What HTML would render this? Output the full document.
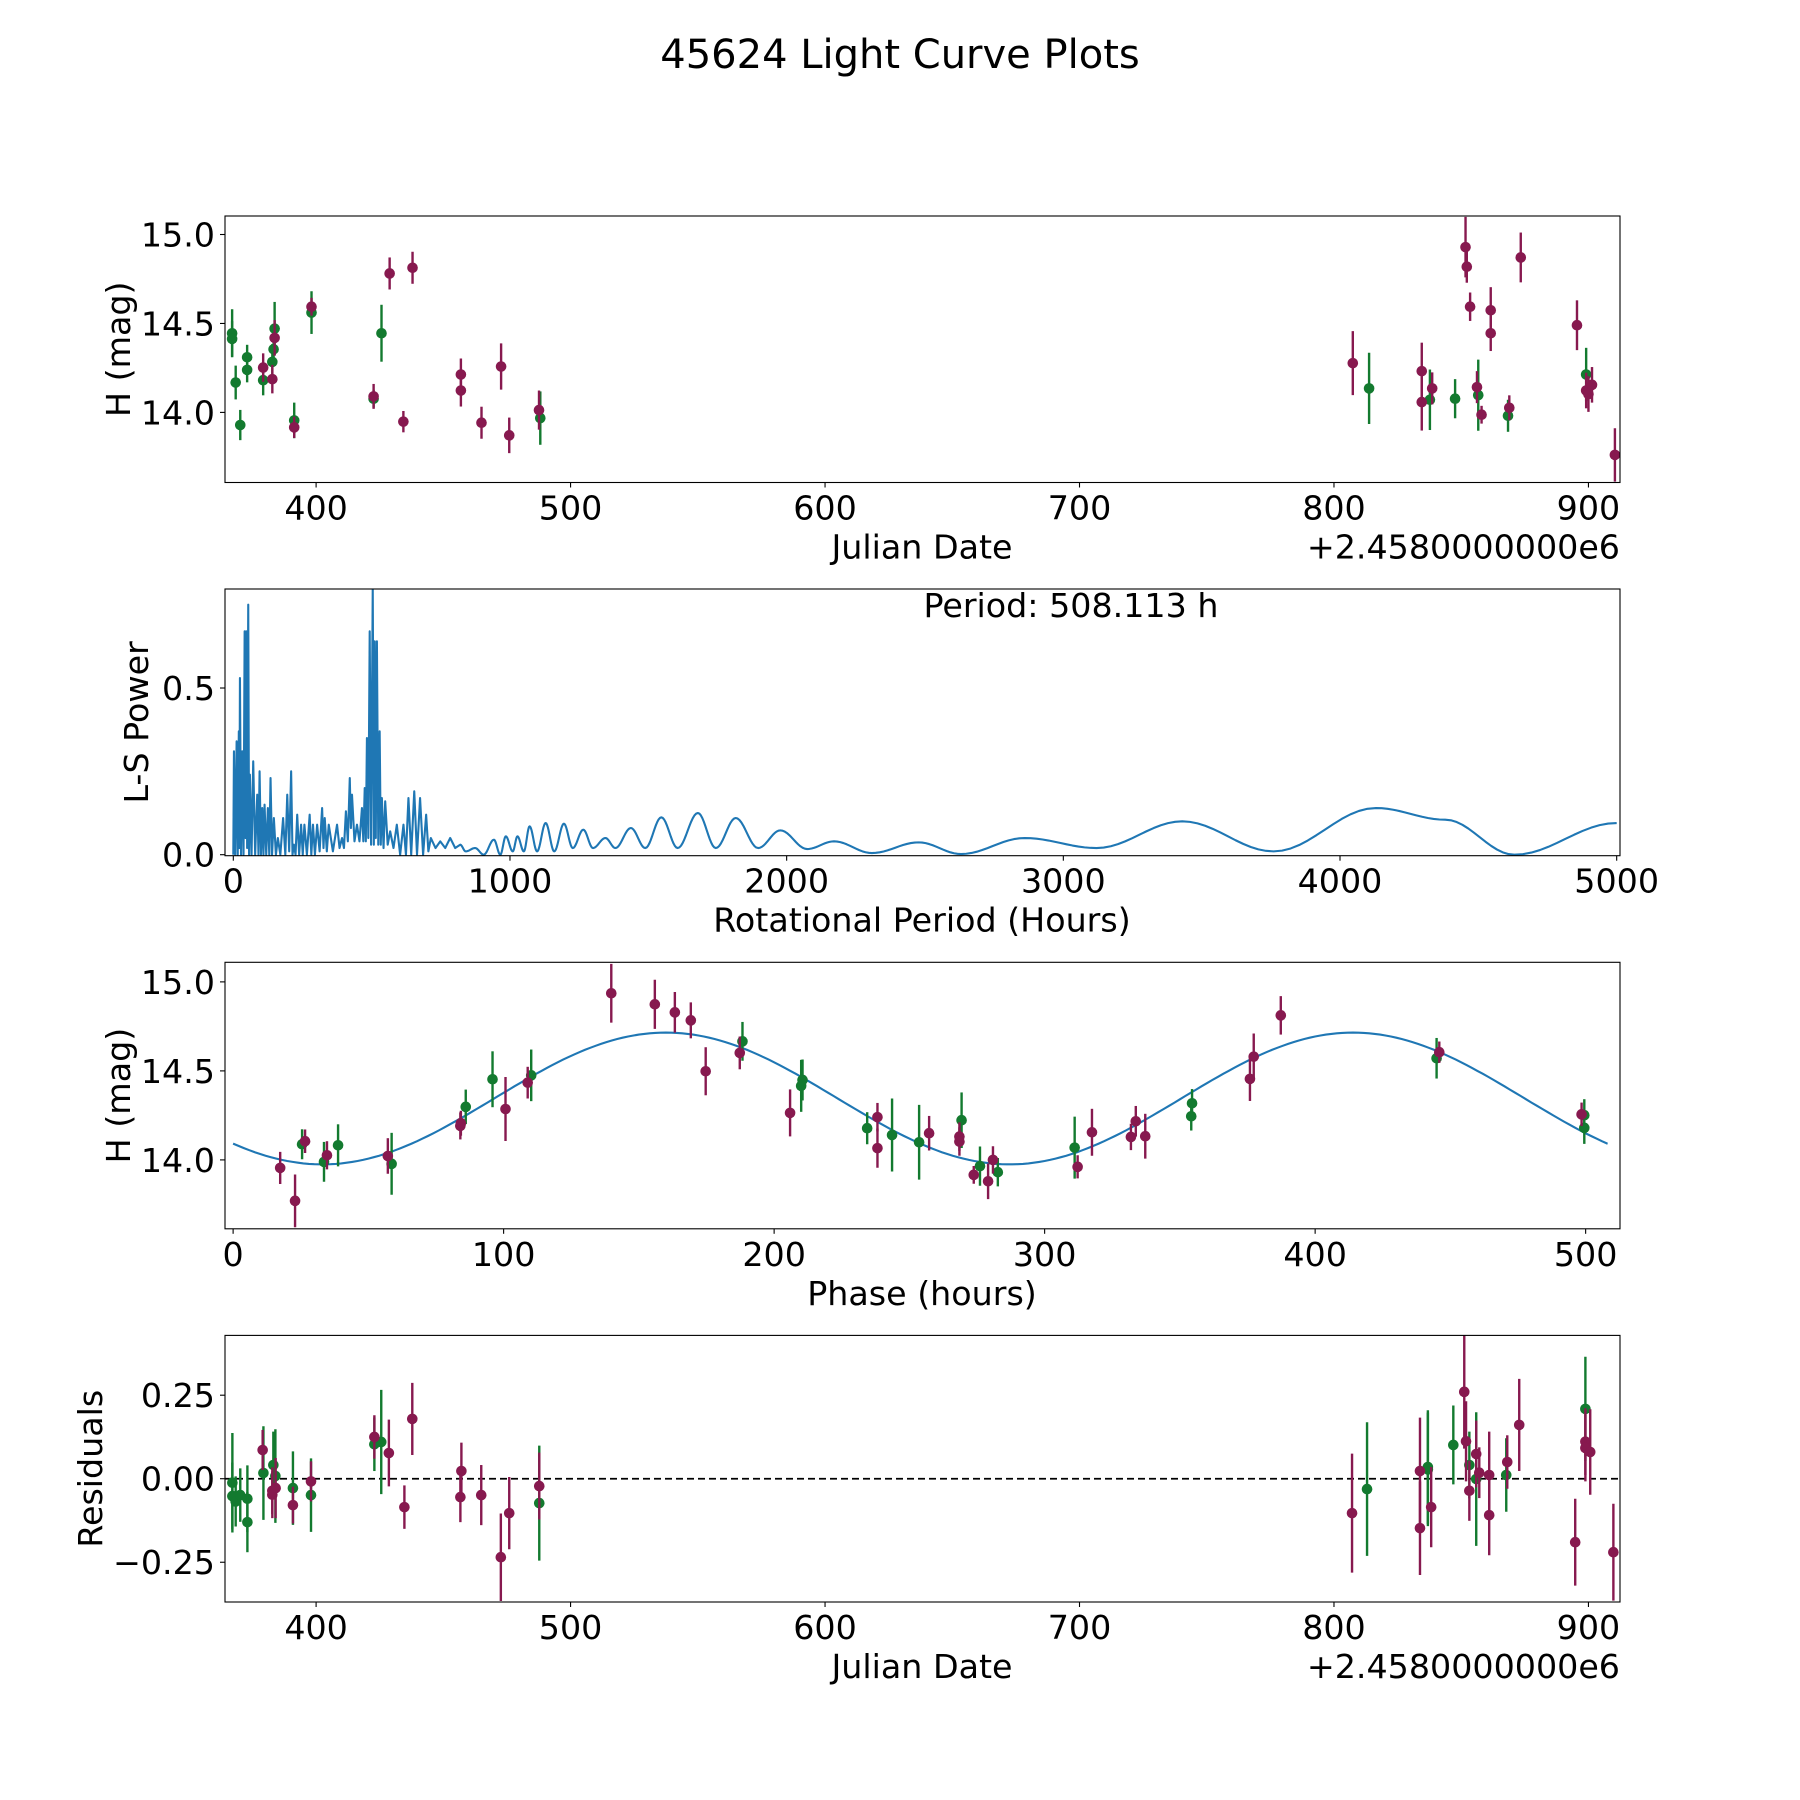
<!DOCTYPE html>
<html><head><meta charset="utf-8"><style>
html,body{margin:0;padding:0;background:#fff}
svg{display:block}
text{font-family:"DejaVu Sans","Liberation Sans",sans-serif;fill:#000}
</style></head><body>
<svg id="fig" width="1800" height="1800" viewBox="0 0 1800 1800" xmlns="http://www.w3.org/2000/svg">
<rect width="1800" height="1800" fill="#fff"/>
<text x="900" y="68" font-size="40" text-anchor="middle">45624 Light Curve Plots</text>
</svg>
<script>
// ---- panel 1: raw light curve ----
const greenDates=[367.0,367.0,368.4,370.2,372.9,372.9,379.2,382.8,383.3,383.7,391.4,398.2,422.6,425.7,488.1,813.8,837.7,847.6,856.7,868.4,899.1];
const greenMags=[14.445,14.413,14.168,13.929,14.310,14.239,14.181,14.284,14.355,14.471,13.955,14.561,14.077,14.445,13.968,14.135,14.071,14.077,14.097,13.981,14.213];
const greenErrs=[0.135,0.10,0.095,0.085,0.07,0.07,0.085,0.10,0.09,0.15,0.10,0.12,0.05,0.16,0.15,0.20,0.17,0.11,0.20,0.09,0.15];
const purpleDates=[379.2,382.8,383.7,391.4,398.2,422.6,428.9,434.3,437.9,456.9,456.9,465.0,472.7,475.9,487.6,807.4,834.5,834.5,838.6,851.7,852.2,853.5,856.2,858.0,861.6,861.6,868.9,873.4,895.5,899.1,900.0,901.4,910.4];
const purpleMags=[14.252,14.187,14.419,13.916,14.594,14.090,14.781,13.948,14.813,14.213,14.123,13.942,14.258,13.871,14.013,14.277,14.232,14.058,14.135,14.929,14.819,14.594,14.142,13.987,14.574,14.445,14.026,14.871,14.490,14.123,14.103,14.155,13.761];
const purpleErrs=[0.08,0.08,0.10,0.06,0.05,0.07,0.09,0.06,0.09,0.09,0.09,0.09,0.13,0.10,0.11,0.18,0.16,0.16,0.09,0.17,0.09,0.08,0.09,0.05,0.13,0.10,0.07,0.14,0.14,0.10,0.10,0.10,0.15];
// ---- panel 2: periodogram ----
const lsPeriods=[0,2.4,7,12,16,20,22,24,28,32.5,37,41,44,47,50,54,57,60,66,72,79,86.5,91,95,100,104.6,109,113,119,125,130,134.6,140,146.6,154,161,170,180,188,195,202,209,214,219,225,231,238,245,251,257,266,276,282,288,295,303,312,321,326,330.5,338,345,360,375,384,393,400,407,414,421,425,429,438,447,456,465,470,475,479,483,488,493,498,504,508,511,515,519,524,529,533,537,543,549,558,567,579,591,603,615,624,633,643,654,664,675,686,697,705,714,731,748,766,784,802,820];
const lsPowers=[0.0,0.31,0.0,0.34,0.0,0.37,0.02,0.53,0.0,0.31,0.0,0.67,0.05,0.67,0.02,0.75,0.0,0.24,0.0,0.28,0.0,0.18,0.0,0.25,0.0,0.14,0.0,0.15,0.0,0.14,0.0,0.23,0.0,0.11,0.0,0.05,0.0,0.11,0.0,0.18,0.01,0.25,0.0,0.03,0.0,0.12,0.0,0.09,0.0,0.09,0.0,0.12,0.0,0.09,0.0,0.09,0.01,0.14,0.02,0.11,0.01,0.09,0.01,0.09,0.02,0.05,0.02,0.13,0.04,0.23,0.08,0.18,0.04,0.09,0.04,0.14,0.04,0.2,0.04,0.35,0.05,0.67,0.03,0.8,0.03,0.64,0.05,0.64,0.03,0.37,0.03,0.17,0.02,0.16,0.03,0.07,0.02,0.09,0.0,0.09,0.0,0.17,0.0,0.19,0.0,0.17,0.0,0.12,0.01,0.05,0.02,0.04,0.02,0.05,0.02,0.03];
const wavePeriods=[820,840,874,905,942,965,985,1010,1027,1050,1071,1098,1129,1160,1195,1227,1265,1300,1345,1381,1437,1489,1547,1606,1679,1744,1816,1897,1977,2074,2171,2308,2477,2630,2860,3120,3430,3760,4130,4380,4630,5000];
const wavePowers=[0.03,0.01,0.02,0.0,0.045,0.0,0.055,0.01,0.055,0.01,0.085,0.01,0.095,0.01,0.093,0.02,0.075,0.02,0.05,0.02,0.08,0.02,0.112,0.02,0.125,0.02,0.11,0.02,0.073,0.017,0.04,0.005,0.037,0.002,0.05,0.02,0.10,0.01,0.14,0.105,0.0,0.095];
// ---- panel 3: phased ----
const greenPhase=[25.5,33.6,38.8,58.6,86.0,95.9,110.2,188.3,210.0,210.5,234.4,243.6,253.6,269.3,276.1,282.7,311.1,354.2,354.5,444.9,499.5,499.5];
const greenPhaseMags=[14.088,13.989,14.082,13.978,14.298,14.453,14.475,14.666,14.416,14.449,14.178,14.140,14.099,14.223,13.965,13.931,14.069,14.245,14.318,14.571,14.251,14.180];
const greenPhaseErrs=[0.084,0.112,0.118,0.174,0.097,0.157,0.145,0.109,0.146,0.115,0.09,0.205,0.21,0.156,0.11,0.08,0.174,0.08,0.08,0.114,0.09,0.09];
const purplePhase=[17.4,22.9,26.6,34.7,57.2,84.0,84.2,100.7,108.9,139.8,155.9,163.3,169.2,174.7,187.3,205.9,238.2,238.2,257.3,268.5,268.5,273.8,279.1,280.9,312.2,317.5,331.9,333.7,337.2,375.9,377.3,387.3,445.9,498.5];
const purplePhaseMags=[13.955,13.770,14.105,14.026,14.022,14.191,14.206,14.286,14.434,14.936,14.874,14.829,14.784,14.498,14.601,14.264,14.240,14.066,14.150,14.131,14.103,13.916,13.880,14.000,13.961,14.155,14.129,14.217,14.133,14.455,14.580,14.812,14.605,14.256];
const purplePhaseErrs=[0.09,0.148,0.066,0.079,0.1,0.076,0.07,0.18,0.089,0.165,0.138,0.114,0.101,0.135,0.092,0.132,0.08,0.11,0.097,0.08,0.08,0.05,0.1,0.077,0.065,0.132,0.074,0.086,0.126,0.124,0.13,0.108,0.06,0.066];
// ---- panel 4: residuals ----
const greenResDates=[367.1,367.1,368.4,370.2,373.0,373.0,379.3,383.2,384.0,390.9,398.0,422.9,425.6,487.7,813.0,836.9,836.9,846.9,853.2,855.9,867.7,898.8];
const greenRes=[-0.012,-0.052,-0.068,-0.049,-0.06,-0.13,0.017,0.041,0.008,-0.028,-0.049,0.103,0.11,-0.073,-0.031,0.035,0.028,0.101,0.041,-0.001,0.011,0.209];
const greenResErrs=[0.149,0.1,0.075,0.08,0.1,0.09,0.14,0.1,0.14,0.11,0.11,0.08,0.156,0.172,0.2,0.17,0.17,0.118,0.1,0.2,0.11,0.156];
const purpleResDates=[379.0,382.8,382.8,384.1,390.9,398.0,422.9,428.6,434.7,437.8,457.1,456.7,464.9,472.6,475.9,487.7,807.1,833.8,833.8,838.2,851.2,851.9,853.2,855.9,857.1,861.0,861.0,868.1,872.8,894.8,898.8,898.8,900.7,909.8];
const purpleRes=[0.086,-0.036,-0.048,-0.028,-0.079,-0.008,0.125,0.077,-0.085,0.179,0.023,-0.055,-0.049,-0.235,-0.103,-0.022,-0.103,0.023,-0.148,-0.085,0.26,0.112,-0.036,0.074,0.018,0.011,-0.109,0.05,0.161,-0.19,0.111,0.092,0.08,-0.22];
const purpleResErrs=[0.06,0.07,0.07,0.09,0.055,0.06,0.065,0.1,0.065,0.108,0.085,0.075,0.09,0.131,0.108,0.1,0.178,0.16,0.14,0.12,0.17,0.12,0.09,0.1,0.076,0.13,0.12,0.08,0.138,0.13,0.1,0.1,0.128,0.145];
// ---- ticks ----
const dateTicks=[400,500,600,700,800,900];
const magTicks=[15.0,14.5,14.0];
const lsXTicks=[0,1000,2000,3000,4000,5000];
const lsYTicks=[0.0,0.5];
const phaseTicks=[0,100,200,300,400,500];
const residTicks=[0.25,0.0,-0.25];
const period=508.113;
const modelMean=14.345, modelAmp=0.37, modelPeak=160, modelHalf=254;

const svg=document.getElementById('fig');
const NS='http://www.w3.org/2000/svg';
const GREEN='#137a2f', PURPLE='#87194f', BLUE='#1f77b4';
const FS=33.3;
function mk(tag,attrs,parent){const e=document.createElementNS(NS,tag);for(const k in attrs)e.setAttribute(k,attrs[k]);(parent||svg).appendChild(e);return e;}
const L=225,R=1620;
function axes(top,bot,x0,x1,y0,y1,name){
  const g=mk('g',{});
  
  
  return {g,top,bot,sx:v=>L+(v-x0)/(x1-x0)*(R-L),sy:v=>bot-(v-y0)/(y1-y0)*(bot-top)};
}
function frame(a){const r=mk('rect',{x:L,y:a.top,width:R-L,height:a.bot-a.top,fill:'none',stroke:'#000','stroke-width':1.1},a.g);}
function xticks(a,ticks,fmt){ticks.forEach(t=>{const x=a.sx(t);mk('line',{x1:x,x2:x,y1:a.bot,y2:a.bot+5,stroke:'#000','stroke-width':1.1},a.g);const tx=mk('text',{x:x,y:a.bot+37,'font-size':FS,'text-anchor':'middle'},a.g);tx.textContent=fmt(t);});}
function yticks(a,ticks,fmt){ticks.forEach(t=>{const y=a.sy(t);mk('line',{x1:L-5,x2:L,y1:y,y2:y,stroke:'#000','stroke-width':1.1},a.g);const tx=mk('text',{x:L-10,y:y+12,'font-size':FS,'text-anchor':'end'},a.g);tx.textContent=fmt(t);});}
function xlabel(a,s,cx){const t=mk('text',{x:cx,y:a.bot+76,'font-size':FS,'text-anchor':'middle'},a.g);t.textContent=s;}
function ylabel(a,s,x){const cy=(a.top+a.bot)/2;const t=mk('text',{x:x,y:cy,'font-size':FS,'text-anchor':'middle',transform:`rotate(-90 ${x} ${cy})`},a.g);t.textContent=s;}
function offsetText(a){const t=mk('text',{x:R,y:a.bot+76,'font-size':FS,'text-anchor':'end'},a.g);t.textContent='+2.4580000000e6';}
function clip(a,id){const cp=mk('clipPath',{id:id});mk('rect',{x:L,y:a.top,width:R-L,height:a.bot-a.top},cp);return `url(#${id})`;}
function errpoints(a,xs,ys,es,color,cl,name){const g=mk('g',{'clip-path':cl},a.g);
  xs.forEach((xv,i)=>{const x=a.sx(xv);mk('line',{x1:x,x2:x,y1:a.sy(ys[i]-es[i]),y2:a.sy(ys[i]+es[i]),stroke:color,'stroke-width':2.4},g);
    const c=mk('circle',{cx:x,cy:a.sy(ys[i]),r:5.3,fill:color},g);});}
const model=p=>modelMean+modelAmp*Math.cos(2*Math.PI*(p-modelPeak)/modelHalf);

// Panel 1
const a1=axes(216,482.5,364.2,912.4,13.606,15.104,'light-curve-panel');
errpoints(a1,greenDates,greenMags,greenErrs,GREEN,clip(a1,'c1'),'green-series');
errpoints(a1,purpleDates,purpleMags,purpleErrs,PURPLE,clip(a1,'c1b'),'purple-series');
frame(a1);xticks(a1,dateTicks,t=>t);yticks(a1,magTicks,t=>t.toFixed(1));xlabel(a1,'Julian Date',922);ylabel(a1,'H (mag)',130);offsetText(a1);

// Panel 2
const a2=axes(589,855.7,-30,5012,-0.003,0.797,'periodogram-panel');
{let d='';lsPeriods.forEach((p,i)=>{d+=(i?'L':'M')+a2.sx(p).toFixed(2)+' '+a2.sy(lsPowers[i]).toFixed(2);});
 for(let i=1;i<wavePeriods.length;i++){const p0=wavePeriods[i-1],p1=wavePeriods[i],v0=wavePowers[i-1],v1=wavePowers[i];
   for(let k=1;k<=12;k++){const t=k/12;const p=p0+(p1-p0)*t;const v=v0+(v1-v0)*(1-Math.cos(Math.PI*t))/2;d+='L'+a2.sx(p).toFixed(2)+' '+a2.sy(v).toFixed(2);}}
 const pl=mk('path',{d:d,fill:'none',stroke:BLUE,'stroke-width':2.1,'stroke-linejoin':'round','clip-path':clip(a2,'c2')},a2.g);}
frame(a2);xticks(a2,lsXTicks,t=>t);yticks(a2,lsYTicks,t=>t.toFixed(1));xlabel(a2,'Rotational Period (Hours)',922);ylabel(a2,'L-S Power',148);
{const t=mk('text',{x:1071,y:617,'font-size':FS,'text-anchor':'middle'},a2.g);t.textContent='Period: 508.113 h';}

// Panel 3
const a3=axes(962.3,1228.8,-3,512.7,13.613,15.11,'phase-panel');
{const c3=clip(a3,'c3');let d='';for(let p=0;p<=period;p+=2){d+=(p?'L':'M')+a3.sx(p).toFixed(1)+' '+a3.sy(model(p)).toFixed(1);}
 d+='L'+a3.sx(period).toFixed(1)+' '+a3.sy(model(period)).toFixed(1);
 const pl=mk('path',{d:d,fill:'none',stroke:BLUE,'stroke-width':2.1,'clip-path':c3},a3.g);
 errpoints(a3,greenPhase,greenPhaseMags,greenPhaseErrs,GREEN,c3,'green-phase-series');
 errpoints(a3,purplePhase,purplePhaseMags,purplePhaseErrs,PURPLE,c3,'purple-phase-series');}
frame(a3);xticks(a3,phaseTicks,t=>t);yticks(a3,magTicks,t=>t.toFixed(1));xlabel(a3,'Phase (hours)',922);ylabel(a3,'H (mag)',130);

// Panel 4
const a4=axes(1335.4,1602,364.2,912.4,-0.369,0.429,'residuals-panel');
{const c4=clip(a4,'c4');
 const zl=mk('line',{x1:L,x2:R,y1:a4.sy(0),y2:a4.sy(0),stroke:'#000','stroke-width':1.7,'stroke-dasharray':'7,4'},a4.g);
 errpoints(a4,greenResDates,greenRes,greenResErrs,GREEN,c4,'green-residuals');
 errpoints(a4,purpleResDates,purpleRes,purpleResErrs,PURPLE,c4,'purple-residuals');}
frame(a4);xticks(a4,dateTicks,t=>t);yticks(a4,residTicks,t=>(t<0?'\u2212':'')+Math.abs(t).toFixed(2));xlabel(a4,'Julian Date',922);ylabel(a4,'Residuals',102);offsetText(a4);
</script>
</body></html>
